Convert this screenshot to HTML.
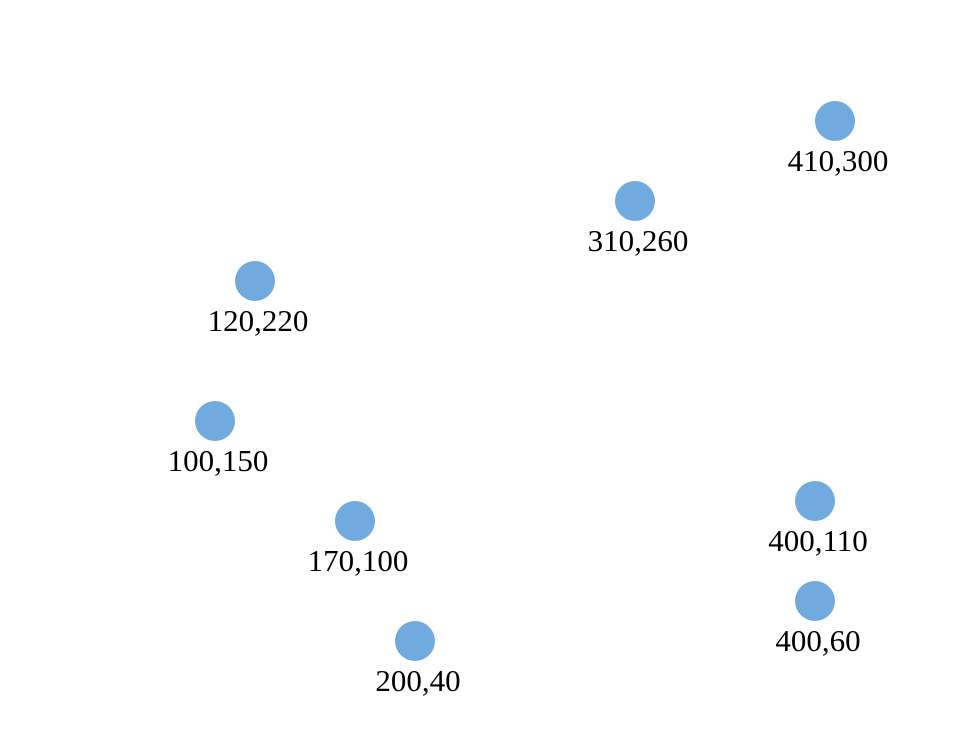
<!DOCTYPE html>
<html>
<head>
<meta charset="utf-8">
<style>
  html,body{margin:0;padding:0;background:#fff;}
  svg{display:block;}
  text{font-family:"Liberation Serif",serif;font-size:31px;fill:#000;}
</style>
</head>
<body>
<svg id="chart" width="964" height="736" viewBox="0 0 964 736"></svg>
<script>
const xValues = [100, 120, 170, 200, 310, 400, 400, 410];
const yValues = [150, 220, 100, 40, 260, 110, 60, 300];

function xScale(v){ return 15 + v * 2; }
function yScale(v){ return 721 - v * 2; }

const svg = document.getElementById('chart');
const ns = 'http://www.w3.org/2000/svg';
for (let i = 0; i < xValues.length; i++) {
  const cx = xScale(xValues[i]);
  const cy = yScale(yValues[i]);
  const c = document.createElementNS(ns, 'circle');
  c.setAttribute('cx', cx);
  c.setAttribute('cy', cy);
  c.setAttribute('r', 20);
  c.setAttribute('fill', '#70aade');
  
  
  svg.appendChild(c);
  const t = document.createElementNS(ns, 'text');
  t.setAttribute('x', cx + 3);
  t.setAttribute('y', cy + 50);
  t.setAttribute('text-anchor', 'middle');
  t.textContent = xValues[i] + ',' + yValues[i];
  
  
  svg.appendChild(t);
}
</script>
</body>
</html>
